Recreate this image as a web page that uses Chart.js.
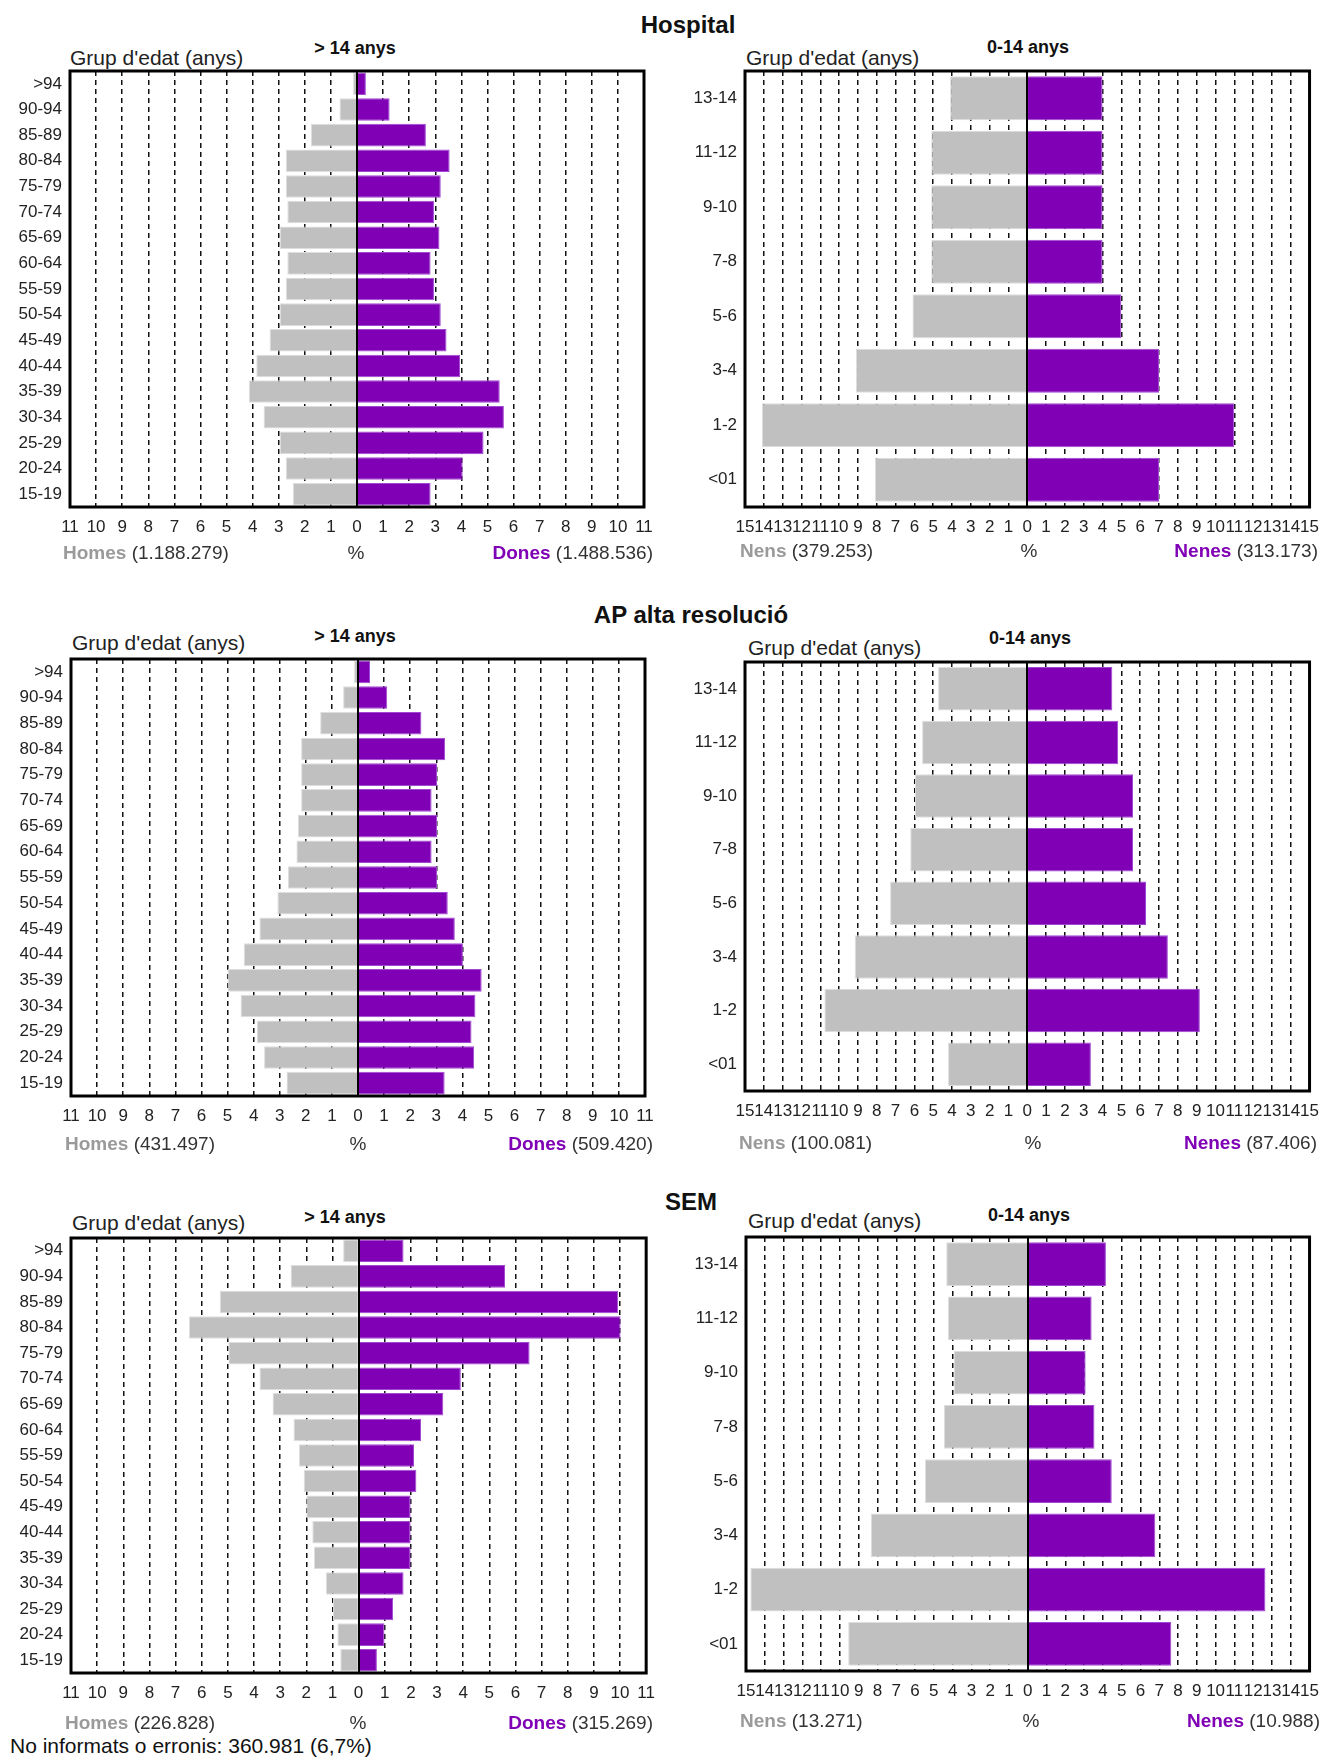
<!DOCTYPE html>
<html>
<head>
<meta charset="utf-8">
<script src="https://cdn.jsdelivr.net/npm/chart.js@4.4.1/dist/chart.umd.min.js"></script>
<style>
  body { margin: 0; width: 1329px; height: 1757px; background: #fff; position: relative; overflow: hidden;
         font-family: "Liberation Sans", Arial, sans-serif; }
  canvas { position: absolute; }
  .t { position: absolute; white-space: nowrap; line-height: 1; transform: translateY(-50%); }
  .c { transform: translate(-50%, -50%); }
  .r { transform: translate(-100%, -50%); }
  .titol { font-weight: bold; font-size: 24px; color: #111; }
  .sub { font-weight: bold; font-size: 18px; color: #111; }
  .grup { font-size: 21px; color: #222; }
  .peu { font-size: 19px; color: #333; }
  .peu b.h { color: #9a9a9a; }
  .peu b.d { color: #7f00b5; }
  .nota { font-size: 21px; color: #111; }
</style>
</head>
<body>

<!-- Hospital -->
<div class="t c titol" style="left:688px;top:25px">Hospital</div>
<div class="t grup" style="left:70px;top:57px">Grup d'edat (anys)</div>
<div class="t c sub" style="left:355px;top:48px">&gt; 14 anys</div>
<div class="t grup" style="left:746px;top:57px">Grup d'edat (anys)</div>
<div class="t c sub" style="left:1028px;top:47px">0-14 anys</div>
<canvas id="hospitalAdults"></canvas>
<canvas id="hospitalNens"></canvas>
<div class="t peu" style="left:63px;top:552px"><b class="h">Homes</b> (1.188.279)</div>
<div class="t c peu" style="left:356px;top:552px">%</div>
<div class="t r peu" style="left:653px;top:552px"><b class="d">Dones</b> (1.488.536)</div>
<div class="t peu" style="left:740px;top:550px"><b class="h">Nens</b> (379.253)</div>
<div class="t c peu" style="left:1029px;top:550px">%</div>
<div class="t r peu" style="left:1318px;top:550px"><b class="d">Nenes</b> (313.173)</div>

<!-- AP alta resolució -->
<div class="t c titol" style="left:691px;top:615px">AP alta resolució</div>
<div class="t grup" style="left:72px;top:642px">Grup d'edat (anys)</div>
<div class="t c sub" style="left:355px;top:636px">&gt; 14 anys</div>
<div class="t grup" style="left:748px;top:647px">Grup d'edat (anys)</div>
<div class="t c sub" style="left:1030px;top:638px">0-14 anys</div>
<canvas id="apAdults"></canvas>
<canvas id="apNens"></canvas>
<div class="t peu" style="left:65px;top:1143px"><b class="h">Homes</b> (431.497)</div>
<div class="t c peu" style="left:358px;top:1143px">%</div>
<div class="t r peu" style="left:653px;top:1143px"><b class="d">Dones</b> (509.420)</div>
<div class="t peu" style="left:739px;top:1142px"><b class="h">Nens</b> (100.081)</div>
<div class="t c peu" style="left:1033px;top:1142px">%</div>
<div class="t r peu" style="left:1317px;top:1142px"><b class="d">Nenes</b> (87.406)</div>

<!-- SEM -->
<div class="t c titol" style="left:691px;top:1202px">SEM</div>
<div class="t grup" style="left:72px;top:1222px">Grup d'edat (anys)</div>
<div class="t c sub" style="left:345px;top:1217px">&gt; 14 anys</div>
<div class="t grup" style="left:748px;top:1220px">Grup d'edat (anys)</div>
<div class="t c sub" style="left:1029px;top:1215px">0-14 anys</div>
<canvas id="semAdults"></canvas>
<canvas id="semNens"></canvas>
<div class="t peu" style="left:65px;top:1722px"><b class="h">Homes</b> (226.828)</div>
<div class="t c peu" style="left:358px;top:1722px">%</div>
<div class="t r peu" style="left:653px;top:1722px"><b class="d">Dones</b> (315.269)</div>
<div class="t peu" style="left:740px;top:1720px"><b class="h">Nens</b> (13.271)</div>
<div class="t c peu" style="left:1031px;top:1720px">%</div>
<div class="t r peu" style="left:1320px;top:1720px"><b class="d">Nenes</b> (10.988)</div>

<div class="t nota" style="left:10px;top:1745px">No informats o erronis: 360.981 (6,7%)</div>

<script>
// grups d'edat (de dalt a baix)
const edatsAdults = [">94", "90-94", "85-89", "80-84", "75-79", "70-74", "65-69", "60-64", "55-59",
  "50-54", "45-49", "40-44", "35-39", "30-34", "25-29", "20-24", "15-19"];
const edatsNens = ["13-14", "11-12", "9-10", "7-8", "5-6", "3-4", "1-2", "<01"];

// límits de l'eix (%)
const maxAdults = 11;
const maxNens = 15;

// Hospital (%)
const hospitalHomes = [0.15, 0.67, 1.77, 2.73, 2.73, 2.67, 2.96, 2.67, 2.73, 2.96, 3.35, 3.86, 4.15, 3.58, 2.96, 2.73, 2.46];
const hospitalDones = [0.34, 1.25, 2.64, 3.55, 3.21, 2.95, 3.16, 2.82, 2.95, 3.21, 3.43, 3.95, 5.47, 5.63, 4.85, 4.05, 2.82];
const hospitalNens = [4.1, 5.1, 5.1, 5.1, 6.1, 9.1, 14.1, 8.1];
const hospitalNenes = [4.0, 4.0, 4.0, 4.0, 5.0, 7.0, 11.0, 7.0];

// AP alta resolució (%)
const apHomes = [0.15, 0.57, 1.45, 2.18, 2.18, 2.18, 2.30, 2.36, 2.69, 3.09, 3.78, 4.38, 5.0, 4.50, 3.88, 3.60, 2.74];
const apDones = [0.46, 1.12, 2.43, 3.34, 3.03, 2.82, 3.03, 2.82, 3.03, 3.44, 3.71, 4.02, 4.74, 4.50, 4.35, 4.45, 3.32];
const apNens = [4.74, 5.59, 5.97, 6.22, 7.29, 9.17, 10.78, 4.21];
const apNenes = [4.52, 4.83, 5.62, 5.62, 6.31, 7.47, 9.17, 3.38];

// SEM (%)
const semHomes = [0.59, 2.60, 5.31, 6.49, 4.98, 3.79, 3.29, 2.49, 2.28, 2.10, 2.0, 1.77, 1.71, 1.25, 0.98, 0.81, 0.70];
const semDones = [1.72, 5.60, 9.93, 10.02, 6.54, 3.91, 3.24, 2.39, 2.12, 2.21, 1.99, 1.99, 1.99, 1.72, 1.32, 0.99, 0.70];
const semNens = [4.34, 4.25, 3.93, 4.47, 5.47, 8.36, 14.77, 9.56];
const semNenes = [4.16, 3.40, 3.08, 3.55, 4.47, 6.79, 12.65, 7.64];

const GRIS = '#c0c0c0';
const LILA = '#7f00b5';
const FONT = '"Liberation Sans", Arial, sans-serif';

// marc negre i línia del zero
const marcPlugin = {
  id: 'marc',
  afterDatasetsDraw(chart) {
    const { ctx, chartArea: a, scales: { x } } = chart;
    ctx.save();
    ctx.strokeStyle = '#000';
    ctx.lineWidth = 2;
    const cx = Math.round(x.getPixelForValue(0));
    ctx.beginPath();
    ctx.moveTo(cx, a.top);
    ctx.lineTo(cx, a.bottom);
    ctx.stroke();
    ctx.lineWidth = 3;
    ctx.strokeRect(a.left, a.top, a.right - a.left, a.bottom - a.top);
    ctx.restore();
  }
};

function piramide(id, etiquetes, esquerra, dreta, maxim, marc, gruix) {
  const canvas = document.getElementById(id);
  const cx = marc.l < 665 ? 0 : 665;
  const cw = marc.l < 665 ? 665 : 664;
  // la y reserva mitja etiqueta + padding a dalt, per això el marge és més gran
  const dalt = 24, baix = 40;
  canvas.width = cw;
  canvas.height = dalt + (marc.b - marc.t) + baix;
  canvas.style.left = cx + 'px';
  canvas.style.top = (marc.t - dalt) + 'px';

  new Chart(canvas, {
    type: 'bar',
    data: {
      labels: etiquetes,
      datasets: [
        { data: esquerra.map(v => -v), backgroundColor: GRIS, borderColor: '#dedede', borderWidth: 1,
          barPercentage: gruix, categoryPercentage: 1 },
        { data: dreta, backgroundColor: LILA, borderColor: '#a048d2', borderWidth: 1,
          barPercentage: gruix, categoryPercentage: 1 }
      ]
    },
    options: {
      indexAxis: 'y',
      responsive: false,
      animation: false,
      devicePixelRatio: 1,
      layout: { padding: { top: dalt, left: 0, bottom: 0, right: cx + cw - marc.r } },
      plugins: { legend: { display: false }, tooltip: { enabled: false } },
      scales: {
        x: {
          stacked: true,
          min: -maxim,
          max: maxim,
          afterFit: s => { s.height = baix; },
          ticks: {
            stepSize: 1, autoSkip: false, maxRotation: 0, minRotation: 0, padding: 10,
            color: '#222', font: { family: FONT, size: 17 },
            callback: v => Math.abs(v)
          },
          grid: {
            drawTicks: false,
            lineWidth: 1.5,
            color: c => (c.tick && (c.tick.value === 0 || Math.abs(c.tick.value) === maxim)) ? 'rgba(0,0,0,0)' : '#111'
          },
          border: { display: false, dash: [5, 4] }
        },
        y: {
          stacked: true,
          afterFit: s => { s.width = marc.l - cx; },
          grid: { display: false, drawTicks: false },
          border: { display: false },
          ticks: { padding: 8, autoSkip: false, color: '#222', font: { family: FONT, size: 17 } }
        }
      }
    },
    plugins: [marcPlugin]
  });
}

piramide('hospitalAdults', edatsAdults, hospitalHomes, hospitalDones, maxAdults, { l: 70, r: 644, t: 71, b: 507 }, 0.88);
piramide('hospitalNens', edatsNens, hospitalNens, hospitalNenes, maxNens, { l: 745, r: 1316, t: 71, b: 507 }, 0.81);
piramide('apAdults', edatsAdults, apHomes, apDones, maxAdults, { l: 71, r: 645, t: 659, b: 1096 }, 0.88);
piramide('apNens', edatsNens, apNens, apNenes, maxNens, { l: 745, r: 1314, t: 662, b: 1091 }, 0.81);
piramide('semAdults', edatsAdults, semHomes, semDones, maxAdults, { l: 71, r: 647, t: 1238, b: 1673 }, 0.88);
piramide('semNens', edatsNens, semNens, semNenes, maxNens, { l: 746, r: 1316, t: 1237, b: 1671 }, 0.81);
</script>
</body>
</html>
